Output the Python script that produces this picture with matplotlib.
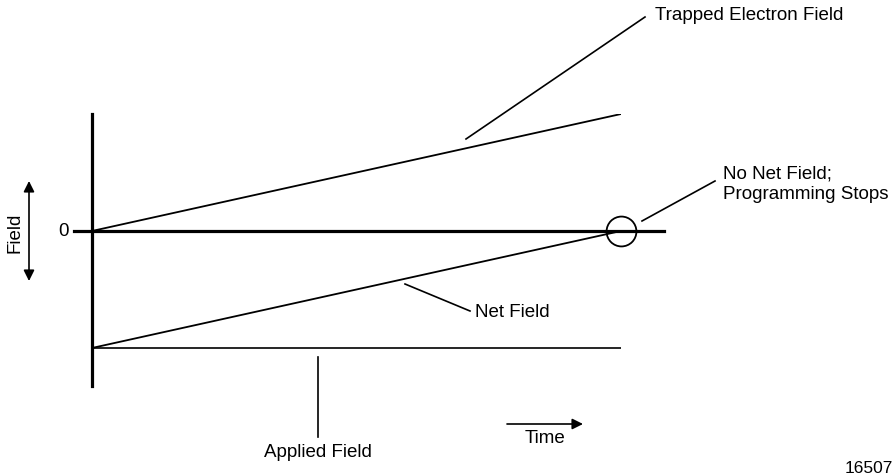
"""
Field vs time schematic
"""
import matplotlib.pyplot as plt

plt.rcParams['font.family'] = ['Liberation Sans', 'DejaVu Sans']

# time runs from programming start to stop
time = [0, 1]
# field levels (zero = no net field)
trapped_field = [0, 1]
net_field = [-1, 0]
applied_field = [-1, -1]

fig = plt.figure(figsize=(8.95, 4.77), dpi=100)

# main plot area: left spine is the field axis
ax = fig.add_axes([92 / 895, 90 / 477, 529 / 895, 272 / 477])
ax.set_xlim(0, 1)
ax.set_ylim(-1.325, 1.0)
for s in ['top', 'right', 'bottom']:
    ax.spines[s].set_visible(False)
ax.spines['left'].set_linewidth(2.3)
ax.set_xticks([])
ax.set_yticks([])

ax.plot(time, trapped_field, color='black', lw=1.3)
ax.plot(time, net_field, color='black', lw=1.3)
ax.plot(time, applied_field, color='black', lw=1.2)
# zero line, runs a bit past both ends
ax.axhline(0, xmin=-0.034, xmax=1.081, color='black', lw=2.3, clip_on=False)
# point where net field reaches zero
ax.plot(time[-1], net_field[-1], 'o', ms=21.5, mfc='none', mec='black', mew=1.3, clip_on=False)

# overlay in pixel coords for the labels
ov = fig.add_axes([0, 0, 1, 1], zorder=5)
ov.set_xlim(0, 895)
ov.set_ylim(477, 0)
ov.axis('off')
ov.patch.set_alpha(0)

fs = 13.5
ov.text(64, 232, '0', fontsize=fs, ha='center', va='center')
ov.text(15, 233, 'Field', fontsize=fs, ha='center', va='center', rotation=90)
ov.annotate('', xy=(29, 182), xytext=(29, 282),
            arrowprops=dict(arrowstyle='<|-|>', color='black', lw=1.2,
                            mutation_scale=16, shrinkA=0, shrinkB=0))

# leaders
ov.plot([466, 645], [140, 18], color='black', lw=1.2)
ov.text(655, 15, 'Trapped Electron Field', fontsize=fs, ha='left', va='center')

ov.plot([642, 715], [222, 182], color='black', lw=1.2)
ov.text(723, 184, 'No Net Field;\nProgramming Stops', fontsize=fs, ha='left',
        va='center', linespacing=1.3)

ov.plot([405, 470], [285, 312], color='black', lw=1.2)
ov.text(475, 313, 'Net Field', fontsize=fs, ha='left', va='center')

ov.plot([318, 318], [358, 438], color='black', lw=1.2)
ov.text(318, 453, 'Applied Field', fontsize=fs, ha='center', va='center')

ov.annotate('', xy=(583, 425), xytext=(507, 425),
            arrowprops=dict(arrowstyle='-|>', color='black', lw=1.2,
                            mutation_scale=16, shrinkA=0, shrinkB=0))
ov.text(545, 439, 'Time', fontsize=fs, ha='center', va='center')

ov.text(893, 469, '16507', fontsize=12.5, ha='right', va='center')

fig.savefig('out.png', dpi=100)
